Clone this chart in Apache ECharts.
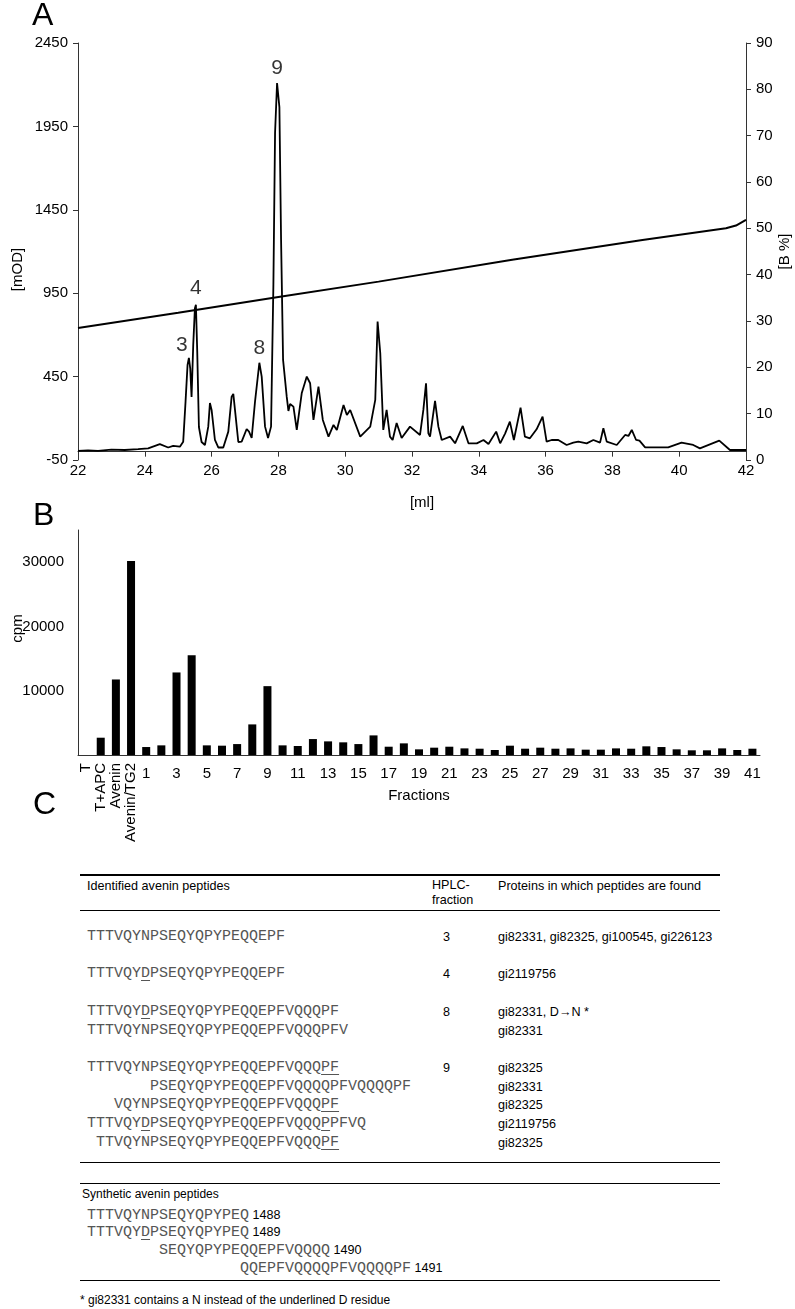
<!DOCTYPE html>
<html>
<head>
<meta charset="utf-8">
<script src="https://cdn.jsdelivr.net/npm/echarts@6/dist/echarts.min.js"></script>
<style>
  body { margin: 0; background: #fff; font-family: 'Liberation Sans', Arial, sans-serif; }
  #page { position: relative; width: 795px; height: 1309px; overflow: hidden; }
  #chart { position: absolute; left: 0; top: 0; width: 795px; height: 850px; }
  .rule { position: absolute; left: 80px; width: 640px; background: #000; }
  .txt { position: absolute; white-space: pre; line-height: 18px; color: #000; }
  .sans { font-size: 12.6px; }
  .seq { font-family: 'Liberation Mono', 'Courier New', monospace; font-size: 15px; color: #555; }
  .seq u { text-decoration-thickness: 1px; text-underline-offset: 3px; }
</style>
</head>
<body>
<div id="page">
  <div id="chart"></div>
  <div id="tableC"></div>
</div>
<script>
// ---- panel A: HPLC trace ----
const traceMl = [22.0, 22.3, 22.6, 23.0, 23.4, 23.8, 24.1, 24.45, 24.7, 24.85, 25.05, 25.15, 25.22, 25.28,
  25.32, 25.36, 25.4, 25.45, 25.5, 25.53, 25.57, 25.62, 25.7, 25.8, 25.9, 25.95, 26.0, 26.1, 26.2, 26.35,
  26.5, 26.6, 26.65, 26.7, 26.8, 26.9, 27.05, 27.12, 27.2, 27.3, 27.43, 27.5, 27.6, 27.69, 27.78, 27.85,
  27.9, 27.96, 28.03, 28.08, 28.14, 28.25, 28.3, 28.35, 28.45, 28.55, 28.7, 28.85, 28.95, 29.05, 29.2,
  29.33, 29.5, 29.65, 29.75, 29.95, 30.05, 30.15, 30.45, 30.75, 30.9, 30.97, 31.05, 31.14, 31.24, 31.34,
  31.42, 31.54, 31.69, 31.94, 32.24, 32.34, 32.42, 32.49, 32.54, 32.69, 32.79, 32.89, 33.14, 33.29, 33.52,
  33.69, 33.94, 34.14, 34.29, 34.52, 34.64, 34.79, 34.93, 35.05, 35.25, 35.38, 35.53, 35.73, 35.91, 36.03,
  36.18, 36.38, 36.63, 36.83, 36.98, 37.23, 37.43, 37.63, 37.73, 37.83, 38.13, 38.38, 38.48, 38.58, 38.71,
  38.81, 38.98, 39.67, 40.07, 40.42, 40.62, 41.2, 41.52, 42.0];
const traceMod = [5, 8, 5, 12, 10, 15, 20, 45, 25, 35, 30, 60, 300, 520,
  562, 500, 328, 640, 860, 880, 600, 148, 58, 40, 150, 292, 250, 70, 25, 25,
  120, 330, 346, 250, 58, 60, 136, 120, 82, 300, 533, 450, 150, 82, 150, 1000,
  1910, 2210, 2066, 1270, 550, 328, 244, 286, 270, 130, 352, 450, 410, 190, 390,
  190, 90, 160, 130, 280, 220, 250, 90, 150, 310, 780, 590, 130, 250, 90,
  70, 172, 82, 150, 100, 250, 410, 110, 90, 304, 150, 70, 90, 50, 154,
  50, 50, 70, 46, 120, 50, 110, 180, 70, 264, 90, 80, 134, 210, 60,
  70, 70, 40, 54, 60, 50, 70, 54, 140, 60, 40, 100, 94, 130, 70,
  66, 26, 26, 54, 40, 20, 66, 10, 10];

// solvent gradient, % B
const gradientMl = [22, 25, 28, 31, 35, 38.9, 41.4, 41.7, 42];
const gradientB = [28.5, 31.8, 35.2, 38.5, 43.2, 47.5, 50.0, 50.6, 51.8];

// labelled peaks (HPLC fraction numbers)
const peakNames = ['3', '4', '8', '9'];
const peakMl = [25.32, 25.53, 27.43, 27.96];
const peakMod = [562, 880, 533, 2210];

// ---- panel B: radioactivity per fraction ----
const fractionLabels = ['T', 'T+APC', 'Avenin', 'Avenin/TG2',
  '1', '2', '3', '4', '5', '6', '7', '8', '9', '10', '11', '12', '13', '14', '15', '16', '17', '18', '19', '20',
  '21', '22', '23', '24', '25', '26', '27', '28', '29', '30', '31', '32', '33', '34', '35', '36', '37', '38',
  '39', '40', '41'];
const cpmValues = [0, 2690, 11750, 30170,
  1240, 1500, 12840, 15530, 1500, 1450, 1700, 4760, 10710, 1500, 1400, 2480, 2120, 1970, 1700, 3050,
  1290, 1810, 880, 1140, 1290, 1030, 980, 780, 1450, 980, 1140, 980, 1030, 830, 830, 1030, 980, 1350,
  1240, 880, 730, 730, 1030, 780, 980];

// ---- panel C: table ----
const identifiedPeptides = [
  'TTTVQYNPSEQYQPYPEQQEPF',
  'TTTVQY[D]PSEQYQPYPEQQEPF',
  'TTTVQY[D]PSEQYQPYPEQQEPFVQQQPF',
  'TTTVQYNPSEQYQPYPEQQEPFVQQQPFV',
  'TTTVQYNPSEQYQPYPEQQEPFVQQQ[PF]',
  '       PSEQYQPYPEQQEPFVQQQQPFVQQQQPF',
  '   VQYNPSEQYQPYPEQQEPFVQQQ[PF]',
  'TTTVQY[D]PSEQYQPYPEQQEPFVQQQ[P]PFVQ',
  ' TTVQYNPSEQYQPYPEQQEPFVQQQ[PF]'
];
const hplcFractions = ['3', '4', '8', '', '9', '', '', '', ''];
const proteinIds = ['gi82331, gi82325, gi100545, gi226123', 'gi2119756', 'gi82331, D\u2192N *', 'gi82331',
  'gi82325', 'gi82331', 'gi82325', 'gi2119756', 'gi82325'];
const syntheticPeptides = [
  'TTTVQYNPSEQYQPYPEQ',
  'TTTVQY[D]PSEQYQPYPEQ',
  '        SEQYQPYPEQQEPFVQQQQ',
  '                 QQEPFVQQQQPFVQQQQPF'
];
const syntheticIds = ['1488', '1489', '1490', '1491'];

const FONT = 'Liberation Sans, Arial, sans-serif';
const axisLineStyle = { lineStyle: { color: '#333', width: 1 } };
const plainNumber = (v) => String(v);

const chart = echarts.init(document.getElementById('chart'));
const option = {
  animation: false,
  backgroundColor: '#fff',
  textStyle: { fontFamily: FONT, color: '#000' },
  graphic: [
    { type: 'text', left: 32, top: 0, style: { text: 'A', font: '32px ' + FONT, fill: '#000' } },
    { type: 'text', left: 33, top: 500, style: { text: 'B', font: '32px ' + FONT, fill: '#000' } }
  ],
  grid: [
    { left: 78, top: 43, width: 668, height: 417, outerBoundsMode: 'none', containLabel: false },
    { left: 78, top: 530, width: 682, height: 225, outerBoundsMode: 'none', containLabel: false }
  ],
  xAxis: [
    {
      gridIndex: 0, type: 'value', min: 22, max: 42, interval: 2,
      name: '[ml]', nameLocation: 'middle', nameGap: 35, nameMoveOverlap: false,
      nameTextStyle: { fontSize: 15, color: '#000', padding: [0, 0, 0, 20] },
      axisLine: axisLineStyle,
      axisTick: { length: 5, lineStyle: { color: '#333' } },
      splitLine: { show: false },
      axisLabel: { fontSize: 15, color: '#000', margin: 3, formatter: plainNumber }
    },
    {
      gridIndex: 1, type: 'category', data: fractionLabels,
      name: 'Fractions', nameLocation: 'middle', nameGap: 33, nameMoveOverlap: false,
      nameTextStyle: { fontSize: 15, color: '#000' },
      axisLine: axisLineStyle,
      axisTick: { length: 3, lineStyle: { color: '#333' } },
      axisLabel: {
        fontSize: 15, color: '#000', margin: 11,
        interval: (i) => i >= 4 && (i - 4) % 2 === 0
      }
    },
    {
      gridIndex: 1, type: 'category', data: fractionLabels, position: 'bottom',
      axisLine: { show: false }, axisTick: { show: false },
      axisLabel: {
        fontSize: 15, color: '#000', margin: 8, rotate: 90,
        interval: (i) => i < 4
      }
    }
  ],
  yAxis: [
    {
      gridIndex: 0, type: 'value', min: -50, max: 2450, interval: 500,
      name: '[mOD]', nameLocation: 'middle', nameGap: 53, nameRotate: 90, nameMoveOverlap: false,
      nameTextStyle: { fontSize: 15, color: '#000', padding: [0, 36, 0, 0] },
      axisLine: { show: true, lineStyle: { color: '#333', width: 1 } },
      axisTick: { show: true, length: 5, lineStyle: { color: '#333' } },
      splitLine: { show: false },
      axisLabel: { fontSize: 15, color: '#000', margin: 10, formatter: plainNumber }
    },
    {
      gridIndex: 0, type: 'value', position: 'right', min: 0, max: 90, interval: 10,
      name: '[B %]', nameLocation: 'middle', nameGap: 31, nameRotate: 90, nameMoveOverlap: false,
      nameTextStyle: { fontSize: 15, color: '#000' },
      axisLine: { show: true, lineStyle: { color: '#333', width: 1 } },
      axisTick: { show: true, length: 5, lineStyle: { color: '#333' } },
      splitLine: { show: false },
      axisLabel: { fontSize: 15, color: '#000', margin: 10, formatter: plainNumber }
    },
    {
      gridIndex: 1, type: 'value', min: 0, max: 35000, interval: 10000,
      name: 'cpm', nameLocation: 'middle', nameGap: 53, nameRotate: 90, nameMoveOverlap: false,
      nameTextStyle: { fontSize: 15, color: '#000', padding: [0, 0, 0, 28] },
      axisLine: { show: true, lineStyle: { color: '#333', width: 1 } },
      axisTick: { show: false },
      splitLine: { show: false },
      axisLabel: {
        fontSize: 15, color: '#000', margin: 14, formatter: plainNumber,
        showMinLabel: false, showMaxLabel: false
      }
    }
  ],
  series: [
    {
      name: 'absorbance', type: 'line', xAxisIndex: 0, yAxisIndex: 0,
      data: traceMl.map((v, i) => [v, traceMod[i]]),
      showSymbol: false, lineStyle: { color: '#000', width: 1.8 }, z: 3
    },
    {
      name: 'gradient', type: 'line', xAxisIndex: 0, yAxisIndex: 1,
      data: gradientMl.map((v, i) => [v, gradientB[i]]),
      showSymbol: false, lineStyle: { color: '#000', width: 2 }, z: 2
    },
    {
      name: 'peaks', type: 'scatter', xAxisIndex: 0, yAxisIndex: 0,
      data: peakMl.map((v, i) => ({ name: peakNames[i], value: [v, peakMod[i]] })),
      symbolSize: 0, silent: true,
      label: {
        show: true, position: 'top', distance: 4, fontSize: 21, color: '#000',
        formatter: (p) => p.name
      },
      labelLayout: (p) => p.dataIndex === 0 ? { dx: -7, dy: 2 } : { dy: p.dataIndex === 1 ? -2 : 0 }
    },
    {
      name: 'cpm', type: 'bar', xAxisIndex: 1, yAxisIndex: 2,
      data: cpmValues, barWidth: 8, itemStyle: { color: '#000' }
    }
  ]
};
chart.setOption(option);

// ---- panel C built as plain positioned text ----
const box = document.getElementById('tableC');
function add(cls, text, x, yCenter, html) {
  const d = document.createElement('div');
  d.className = 'txt ' + cls;
  d.style.left = x + 'px';
  d.style.top = (yCenter - 9) + 'px';
  if (html) d.innerHTML = html; else d.textContent = text;
  box.appendChild(d);
  return d;
}
function rule(y, h) {
  const r = document.createElement('div');
  r.className = 'rule';
  r.style.top = y + 'px';
  r.style.height = h + 'px';
  box.appendChild(r);
}
function seqHtml(s) {
  return s.replace(/\[([A-Z]+)\]/g, '<u>$1</u>');
}
const c = add('', 'C', 33, 802);
c.style.font = '32px ' + FONT;
c.style.lineHeight = '34px';
c.style.top = '786px';

rule(874, 2);
add('sans', 'Identified avenin peptides', 87, 886);
add('sans', 'HPLC-\nfraction', 432, 887).style.lineHeight = '15px';
add('sans', 'Proteins in which peptides are found', 498, 886);
rule(910, 1);

const rowY = [937, 974, 1012, 1031, 1068, 1087, 1105, 1124, 1143];
identifiedPeptides.forEach((s, i) => {
  add('seq', '', 87, rowY[i], seqHtml(s));
  if (hplcFractions[i]) add('sans', hplcFractions[i], 443, rowY[i]);
  add('sans', proteinIds[i], 498, rowY[i]);
});
rule(1162, 1);

rule(1183, 1);
add('sans', 'Synthetic avenin peptides', 82, 1194).style.fontSize = '12px';
const synY = [1215, 1232, 1250, 1268];
syntheticPeptides.forEach((s, i) => {
  add('seq', '', 87, synY[i], seqHtml(s) +
    '<span style="font-family:Liberation Sans, Arial, sans-serif;font-size:12.6px;color:#000"> ' +
    syntheticIds[i] + '</span>');
});
rule(1280, 1);
add('sans', '* gi82331 contains a N instead of the underlined D residue', 80, 1300).style.fontSize = '12px';
</script>
</body>
</html>
